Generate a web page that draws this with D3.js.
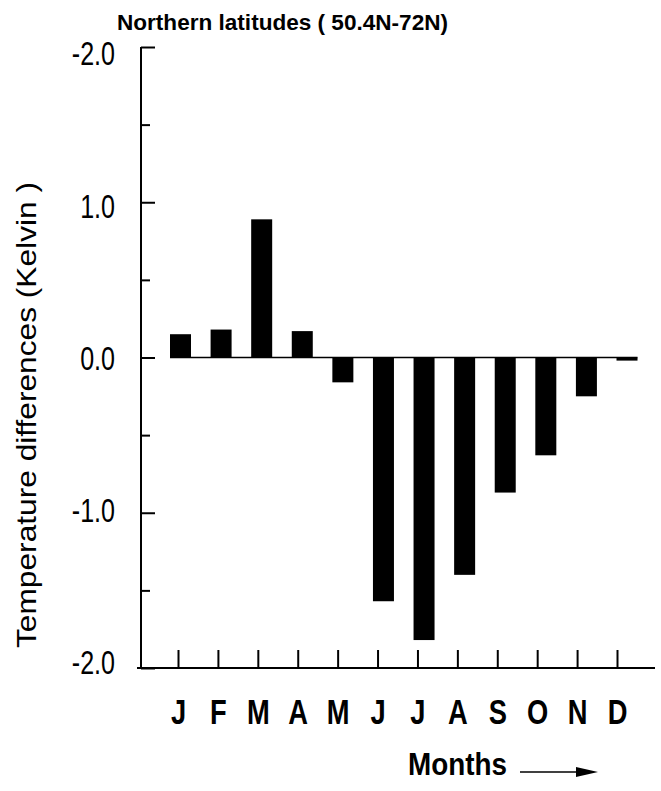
<!DOCTYPE html>
<html>
<head>
<meta charset="utf-8">
<script src="https://cdn.jsdelivr.net/npm/d3@7"></script>
<style>
  body { margin: 0; background: #fff; }
  svg { display: block; }
  text { font-family: "Liberation Sans", Arial, sans-serif; }
</style>
</head>
<body>
<div id="chart"></div>
<script>
// monthly temperature differences, northern latitudes
const months = ["Jan", "Feb", "Mar", "Apr", "May", "Jun", "Jul", "Aug", "Sep", "Oct", "Nov", "Dec"];
const monthLabels = ["J", "F", "M", "A", "M", "J", "J", "A", "S", "O", "N", "D"];
const diffs = [0.15, 0.18, 0.89, 0.17, -0.16, -1.57, -1.82, -1.40, -0.87, -0.63, -0.25, -0.02];

// y ticks (the top label reads "-2.0" in the original figure)
const yMajor = [-2, -1, 0, 1, 2];
const yMajorLabels = ["-2.0", "-1.0", "0.0", "1.0", "-2.0"];
const yMinor = [-1.5, -0.5, 0.5, 1.5];

const W = 661, H = 791;

const svg = d3.select("#chart")
  .append("svg")
  .attr("width", W)
  .attr("height", H);

// squeeze text horizontally, the original uses a narrow face
function narrow(sel, f) {
  sel.each(function () {
    const w = this.getComputedTextLength();
    d3.select(this).attr("textLength", w * f).attr("lengthAdjust", "spacingAndGlyphs");
  });
}

const y = d3.scaleLinear().domain([-2, 2]).range([668, 47]);
// the tick labels sit on a slightly tighter spacing than the ticks
const yLab = d3.scaleLinear().domain([-2, 2]).range([662, 53]);

// tick positions and bar positions drift slightly apart in the original
const xTick = d3.scalePoint().domain(months).range([178, 617]);
const xBar = d3.scalePoint().domain(months).range([180.5, 627]);
const barW = 21;

const axisX = 141;

// Y axis
const yAxis = svg.append("g")
  .attr("transform", `translate(${axisX},0)`)
  .call(d3.axisLeft(y)
    .tickValues(yMajor)
    .tickSizeInner(-14)
    .tickSizeOuter(0)
    .tickPadding(26)
    .tickFormat((d, i) => yMajorLabels[i]));
yAxis.select(".domain").remove();
yAxis.selectAll(".tick line").attr("stroke", "#000").attr("stroke-width", 2);
yAxis.selectAll(".tick text")
  .style("font-size", "33px")
  .attr("y", d => yLab(d) - y(d))
  .attr("dy", "0.36em")
  .attr("fill", "#000")
  .call(narrow, 0.76);

const yMinorAxis = svg.append("g")
  .attr("transform", `translate(${axisX},0)`)
  .call(d3.axisLeft(y).tickValues(yMinor).tickSizeInner(-9).tickSizeOuter(0).tickFormat(""));
yMinorAxis.select(".domain").remove();
yMinorAxis.selectAll(".tick line").attr("stroke", "#000").attr("stroke-width", 2);

// X axis
const xAxis = svg.append("g")
  .attr("transform", `translate(0,${y(-2)})`)
  .call(d3.axisBottom(xTick)
    .tickSizeInner(-18)
    .tickSizeOuter(0)
    .tickPadding(31)
    .tickFormat((d, i) => monthLabels[i]));
xAxis.select(".domain").remove();
xAxis.selectAll(".tick line").attr("stroke", "#000").attr("stroke-width", 2);
xAxis.selectAll(".tick text")
  .style("font-size", "35px")
  .style("font-weight", "bold")
  .attr("fill", "#000")
  .call(narrow, 0.78);

// axis lines
svg.append("line")
  .attr("x1", axisX).attr("x2", axisX)
  .attr("y1", y(2)).attr("y2", y(-2) + 1)
  .attr("stroke", "#000").attr("stroke-width", 2);
svg.append("line")
  .attr("x1", axisX - 4).attr("x2", xTick("Dec") + 38)
  .attr("y1", y(-2)).attr("y2", y(-2))
  .attr("stroke", "#000").attr("stroke-width", 2);

// zero line
svg.append("line")
  .attr("x1", xBar("Jan") - barW / 2).attr("x2", xBar("Dec") + barW / 2)
  .attr("y1", y(0)).attr("y2", y(0))
  .attr("stroke", "#000").attr("stroke-width", 1.5);

// bars
svg.selectAll("rect.bar")
  .data(diffs)
  .join("rect")
  .attr("class", "bar")
  .attr("x", (d, i) => xBar(months[i]) - barW / 2)
  .attr("y", d => y(Math.max(0, d)))
  .attr("width", barW)
  .attr("height", d => Math.max(2, Math.abs(y(d) - y(0))))
  .attr("fill", "#000");

// title
svg.append("text")
  .attr("x", 117).attr("y", 30)
  .attr("textLength", 331)
  .attr("lengthAdjust", "spacingAndGlyphs")
  .style("font-size", "22px")
  .style("font-weight", "bold")
  .text("Northern latitudes ( 50.4N-72N)");

// y title
svg.append("text")
  .attr("transform", "translate(36,415) rotate(-90)")
  .attr("text-anchor", "middle")
  .attr("textLength", 466)
  .attr("lengthAdjust", "spacingAndGlyphs")
  .style("font-size", "28px")
  .text("Temperature differences (Kelvin )");

// x title with arrow
svg.append("text")
  .attr("x", 408).attr("y", 775)
  .attr("textLength", 99)
  .attr("lengthAdjust", "spacingAndGlyphs")
  .style("font-size", "32px")
  .style("font-weight", "bold")
  .text("Months");
svg.append("line")
  .attr("x1", 520).attr("x2", 580)
  .attr("y1", 772).attr("y2", 772)
  .attr("stroke", "#000").attr("stroke-width", 1.5);
svg.append("path")
  .attr("d", "M576,767 L598,772 L576,777 Z")
  .attr("fill", "#000");
</script>
</body>
</html>
